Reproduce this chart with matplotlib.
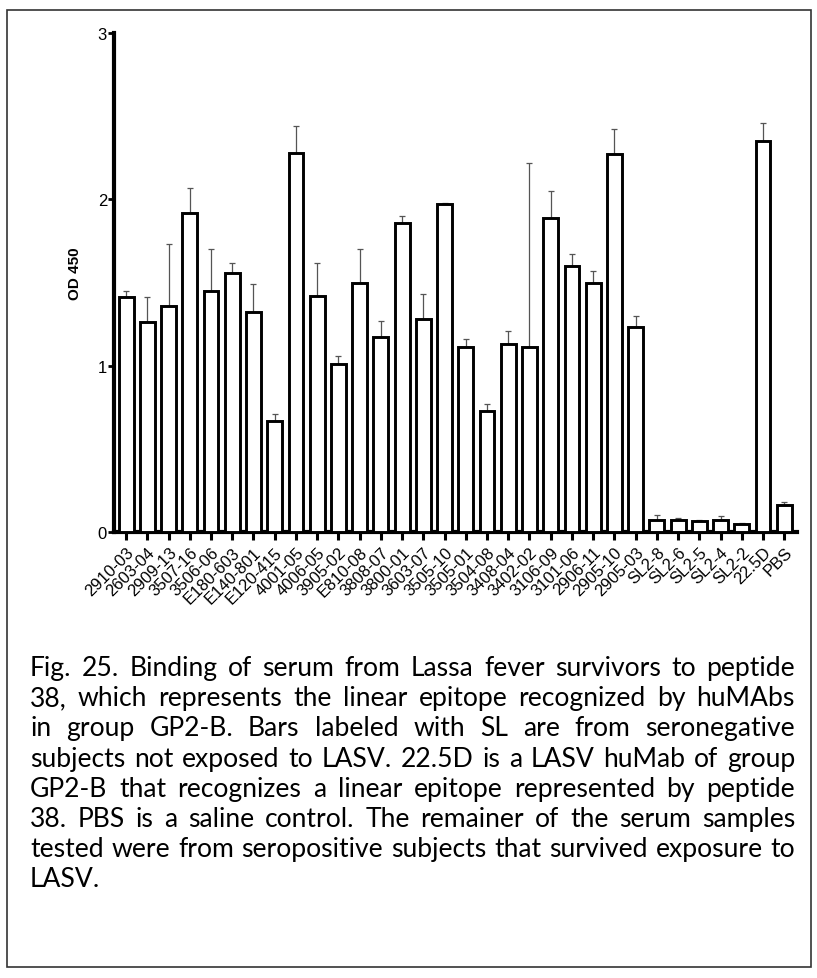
import numpy as np
import matplotlib
matplotlib.use("Agg")
import matplotlib.pyplot as plt
from matplotlib.patches import Rectangle

# serum samples, OD450 readings and the upper error (SEM)
samples = ['2910-03', '2603-04', '2909-13', '3507-16', '3506-06', 'E180-603',
           'E140-801', 'E120-415', '4001-05', '4006-05', '3905-02', 'E810-08',
           '3808-07', '3800-01', '3603-07', '3505-10', '3505-01', '3504-08',
           '3408-04', '3402-02', '3106-09', '3101-06', '2906-11', '2905-10',
           '2905-03', 'SL2-8', 'SL2-6', 'SL2-5', 'SL2-4', 'SL2-2', '22.5D', 'PBS']
od450 = [1.41, 1.26, 1.36, 1.92, 1.45, 1.56, 1.32, 0.67, 2.28, 1.42, 1.01, 1.50,
         1.17, 1.86, 1.28, 1.97, 1.11, 0.73, 1.13, 1.11, 1.89, 1.60, 1.50, 2.27,
         1.23, 0.07, 0.075, 0.065, 0.07, 0.05, 2.35, 0.16]
err_up = [0.04, 0.15, 0.37, 0.15, 0.25, 0.06, 0.17, 0.04, 0.16, 0.20, 0.05, 0.20,
          0.10, 0.04, 0.15, 0.01, 0.05, 0.04, 0.08, 1.11, 0.16, 0.07, 0.07, 0.15,
          0.07, 0.03, 0.01, 0.01, 0.025, 0.005, 0.11, 0.02]
yticks = [0, 1, 2, 3]

caption = [
    "Fig. 25. Binding of serum from Lassa fever survivors to peptide",
    "38, which represents the linear epitope recognized by  huMAbs",
    "in group GP2-B. Bars labeled with SL are from seronegative",
    "subjects not exposed to LASV. 22.5D is a LASV huMab of group",
    "GP2-B that recognizes a linear epitope represented by peptide",
    "38. PBS is  a saline control. The remainer of the serum samples",
    "tested were from seropositive subjects that survived exposure to",
    "LASV.",
]

W, H = 817, 979
fig = plt.figure(figsize=(W / 100, H / 100), dpi=100)
fig.patch.set_facecolor('white')

# axes placed in pixel terms of the original picture
x0, x1, ytop, ybot = 114, 797, 34, 533
ax = fig.add_axes([x0 / W, 1 - ybot / H, (x1 - x0) / W, (ybot - ytop) / H])

x = np.arange(len(samples))
ax.bar(x, od450, width=0.7, color='white', edgecolor='black', linewidth=2.1, zorder=3)
ax.errorbar(x, od450, yerr=[np.zeros(len(x)), err_up], fmt='none',
            ecolor='#555555', elinewidth=0.9, capsize=2.5, capthick=0.9, zorder=2)

ax.set_xlim(-0.57, len(samples) - 1 + 0.6)
ax.set_ylim(0, 3)
ax.set_yticks(yticks)
ax.set_yticklabels([str(t) for t in yticks], fontsize=12, family='Liberation Sans')
ax.set_xticks(x)
ax.set_xticklabels(samples, rotation=45, ha='right', va='top', rotation_mode='anchor',
                   fontsize=12, family='Liberation Sans')

for side in ['top', 'right']:
    ax.spines[side].set_visible(False)
for side in ['left', 'bottom']:
    ax.spines[side].set_linewidth(3)
ax.tick_params(axis='y', direction='out', length=4, width=2, pad=1)
ax.tick_params(axis='x', direction='out', length=6, width=2.2, pad=3)

ax.set_ylabel('OD 450', fontsize=11, fontweight='bold', family='Liberation Sans')
ax.yaxis.set_label_coords(-0.047, 0.52)

# frame round the whole figure
fig.add_artist(Rectangle((7 / W, 1 - 968 / H), (811 - 7) / W, (968 - 11) / H,
                         transform=fig.transFigure, fill=False,
                         edgecolor='#333333', linewidth=1.2))

# justified caption; size picked so the fullest line fits the width
renderer = fig.canvas.get_renderer()
left, right = 30, 795
probe = fig.text(0, 0, caption[6], fontsize=15, family='Lato')
fs = 15 * (right - left) / probe.get_window_extent(renderer).width * 0.99
probe.remove()

for i, line in enumerate(caption):
    yb = 1 - (676 + 30.2 * i) / H
    words = line.split()
    if i == len(caption) - 1:
        fig.text(left / W, yb, line, fontsize=fs, family='Lato', va='baseline', ha='left')
        continue
    widths = []
    for w in words:
        t = fig.text(0, 0, w, fontsize=fs, family='Lato')
        widths.append(t.get_window_extent(renderer).width)
        t.remove()
    gap = (right - left - sum(widths)) / (len(words) - 1)
    xp = left
    for w, wd in zip(words, widths):
        fig.text(xp / W, yb, w, fontsize=fs, family='Lato', va='baseline', ha='left')
        xp += wd + gap

fig.savefig('out.png', dpi=100)
